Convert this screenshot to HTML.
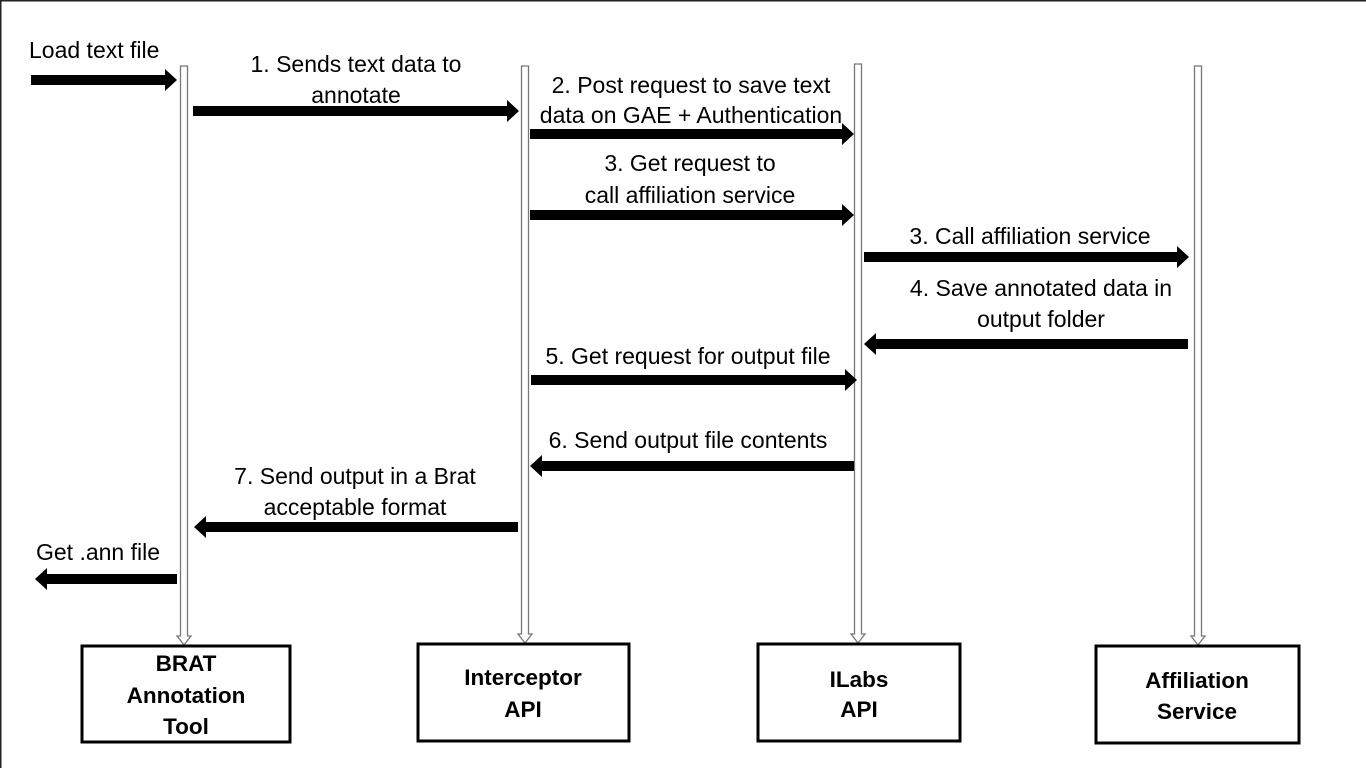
<!DOCTYPE html>
<html><head><meta charset="utf-8"><style>
html,body{margin:0;padding:0;background:#fff;}
svg{display:block;}
text{font-family:"Liberation Sans",sans-serif;font-size:23px;fill:#000;}
.b{font-weight:bold;font-size:22.5px;}
</style></head><body>
<svg width="1366" height="768" viewBox="0 0 1366 768" xmlns="http://www.w3.org/2000/svg">
<rect x="0" y="0" width="1366" height="768" fill="#fff"/>
<line x1="0" y1="0.75" x2="1366" y2="0.75" stroke="#222" stroke-width="1.5"/>
<line x1="0.75" y1="0" x2="0.75" y2="768" stroke="#222" stroke-width="1.5"/>

<g fill="#fff" stroke="#777" stroke-width="1.3">
<path d="M180.5 66 H187.5 V636 H191 L184 645 L177 636 H180.5 Z"/>
<path d="M521.5 66 H528.5 V634 H532 L525 643 L518 634 H521.5 Z"/>
<path d="M854.5 64 H861.5 V634 H865 L858 643 L851 634 H854.5 Z"/>
<path d="M1194.5 66 H1201.5 V636 H1205 L1198 645 L1191 636 H1194.5 Z"/>
</g>

<g fill="#fff" stroke="#000" stroke-width="3">
<rect x="82" y="646" width="208" height="96"/>
<rect x="418" y="644" width="211" height="97"/>
<rect x="758" y="644" width="202" height="97"/>
<rect x="1096" y="646" width="203" height="97"/>
</g>
<g text-anchor="middle">
<text class="b" x="186" y="671">BRAT</text>
<text class="b" x="186" y="703">Annotation</text>
<text class="b" x="186" y="734">Tool</text>
<text class="b" x="523" y="685">Interceptor</text>
<text class="b" x="523" y="717">API</text>
<text class="b" x="859" y="687">ILabs</text>
<text class="b" x="859" y="717">API</text>
<text class="b" x="1197" y="688">Affiliation</text>
<text class="b" x="1197" y="719">Service</text>
</g>

<g fill="#000">
<path d="M31 75 H165 V69 L177 80 L165 91 V85 H31 Z"/>
<path d="M193 106 H507 V100 L519 111 L507 122 V116 H193 Z"/>
<path d="M530 129 H842 V123 L854 134 L842 145 V139 H530 Z"/>
<path d="M530 210 H842 V204 L854 215 L842 226 V220 H530 Z"/>
<path d="M864 252 H1177 V246 L1189 257 L1177 268 V262 H864 Z"/>
<path d="M1188 339 H876 V333 L864 344 L876 355 V349 H1188 Z"/>
<path d="M531 375 H845 V369 L857 380 L845 391 V385 H531 Z"/>
<path d="M854 461 H542 V455 L530 466 L542 477 V471 H854 Z"/>
<path d="M518 522 H206 V516 L194 527 L206 538 V532 H518 Z"/>
<path d="M177 574 H47 V568 L35 579 L47 590 V584 H177 Z"/>
</g>

<text x="29" y="58">Load text file</text>
<g text-anchor="middle">
<text x="356" y="72">1. Sends text data to</text>
<text x="356" y="103">annotate</text>
<text x="691" y="93">2. Post request to save text</text>
<text x="691" y="123">data on GAE + Authentication</text>
<text x="690" y="171">3. Get request to</text>
<text x="690" y="203">call affiliation service</text>
<text x="1030" y="244">3. Call affiliation service</text>
<text x="1041" y="296">4. Save annotated data in</text>
<text x="1041" y="327">output folder</text>
<text x="688" y="364">5. Get request for output file</text>
<text x="688" y="448">6. Send output file contents</text>
<text x="355" y="484">7. Send output in a Brat</text>
<text x="355" y="515">acceptable format</text>
</g>
<text x="36" y="560">Get .ann file</text>
</svg>
</body></html>
